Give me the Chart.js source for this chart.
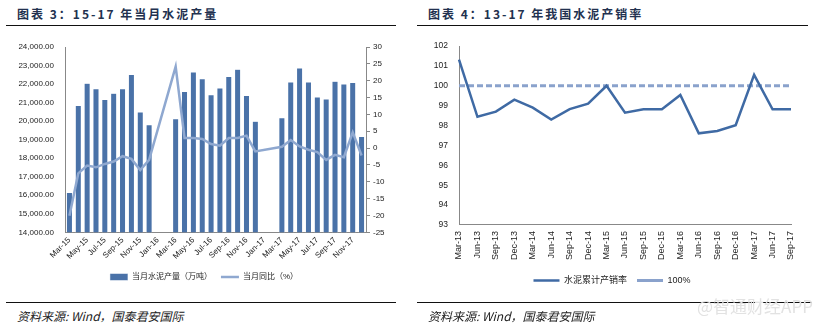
<!DOCTYPE html>
<html>
<head>
<meta charset="utf-8">
<script src="https://cdn.jsdelivr.net/npm/chart.js@4.4.0/dist/chart.umd.min.js"></script>
<style>
body { margin: 0; background: #fff; font-family: "Liberation Sans", "Noto Sans CJK SC", sans-serif; }
#page { position: relative; width: 816px; height: 325px; overflow: hidden; }
.title { position: absolute; top: 5px; font-size: 12px; font-weight: bold; color: #22314f; letter-spacing: 2px; font-family: "Noto Sans CJK SC", sans-serif; }
.rule { position: absolute; height: 1px; background: #111; }
.src { position: absolute; top: 307px; font-size: 12px; font-style: italic; color: #222; font-family: "Noto Sans CJK SC", sans-serif; }
.box { position: absolute; }
#mark { position: absolute; left: 697px; top: 293px; font-size: 17px; color: #e2e2e2; font-family: "Noto Sans CJK SC", sans-serif; }
</style>
</head>
<body>
<div id="page">
  <div class="title" style="left:17px">图表 3：15-17 年当月水泥产量</div>
  <div class="title" style="left:428px">图表 4：13-17 年我国水泥产销率</div>
  <div class="rule" style="left:6px;width:390px;top:25px"></div>
  <div class="rule" style="left:417px;width:391px;top:25px"></div>
  <div class="box" style="left:0;top:37px;width:408px;height:254px"><canvas id="chart1"></canvas></div>
  <div class="box" style="left:408px;top:36px;width:408px;height:259px"><canvas id="chart2"></canvas></div>
  <div class="rule" style="left:6px;width:390px;top:302px"></div>
  <div class="rule" style="left:417px;width:395px;top:302px"></div>
  <div class="src" style="left:17px">资料来源: Wind，国泰君安国际</div>
  <div class="src" style="left:428px">资料来源: Wind，国泰君安国际</div>
  <div id="mark">@智通财经APP</div>
</div>
<script>
// 当月水泥产量 / 当月同比
var months = ['Mar-15','Apr-15','May-15','Jun-15','Jul-15','Aug-15','Sep-15','Oct-15','Nov-15','Dec-15',
              'Jan-16','Feb-16','Mar-16','Apr-16','May-16','Jun-16','Jul-16','Aug-16','Sep-16','Oct-16','Nov-16','Dec-16',
              'Jan-17','Feb-17','Mar-17','Apr-17','May-17','Jun-17','Jul-17','Aug-17','Sep-17','Oct-17','Nov-17','Dec-17'];
var output = [16150,20850,22050,21750,21170,21510,21750,22510,20490,19800,
              null,null,20130,21600,22650,22290,21430,21790,22410,22800,21390,20000,
              null,null,20180,22110,22870,22110,21300,21190,22150,22000,22090,19170];
var yoy = [-20.1,-7.5,-5.2,-5.7,-4.7,-4.0,-2.4,-3.2,-6.5,-3.5,
           null,null,24.2,3.0,3.0,2.7,1.2,0.7,3.0,3.0,3.7,-1.0,
           null,null,0.4,2.4,0.5,-0.5,-1.2,-3.5,-2.0,-2.7,4.7,-2.2];

// 水泥累计产销率
var quarters = ['Mar-13','Jun-13','Sep-13','Dec-13','Mar-14','Jun-14','Sep-14','Dec-14','Mar-15','Jun-15',
                'Sep-15','Dec-15','Mar-16','Jun-16','Sep-16','Dec-16','Mar-17','Jun-17','Sep-17'];
var rate = [101.31,98.44,98.7,99.3,98.9,98.3,98.83,99.1,100.0,98.65,98.82,98.82,99.54,97.61,97.73,98.02,100.55,98.82,98.82];
var hundred = [100,100,100,100,100,100,100,100,100,100,100,100,100,100,100,100,100,100,100];

Chart.defaults.font.family = '"Liberation Sans", "Noto Sans CJK SC", sans-serif';
Chart.defaults.color = '#222';
Chart.defaults.animation = false;

var ctx = document.getElementById('chart1').getContext('2d');
var chart1 = new Chart(ctx, {
    type: 'bar',
    data: {
        labels: months,
        datasets: [{
            label: '当月水泥产量（万吨）',
            data: output,
            backgroundColor: '#4a72a8',
            borderColor: '#ffffff',
            borderWidth: 0.5,
            barPercentage: 0.9,
            categoryPercentage: 0.76,
            yAxisID: 'y',
            pointStyle: 'rect',
            order: 2
        }, {
            type: 'line',
            label: '当月同比（%）',
            data: yoy,
            borderColor: '#8fa8d0',
            borderWidth: 2.5,
            pointRadius: 0,
            spanGaps: true,
            tension: 0,
            yAxisID: 'y1',
            pointStyle: 'line',
            order: 1
        }]
    },
    options: {
        responsive: true,
        maintainAspectRatio: false,
        layout: { padding: { left: 0, right: 0, top: 10, bottom: 0 } },
        plugins: {
            legend: {
                position: 'bottom',
                labels: {
                    usePointStyle: true, pointStyleWidth: 18, boxHeight: 7, font: { size: 8 }, padding: 9,
                    sort: function(a, b) { return a.datasetIndex - b.datasetIndex; }
                }
            },
            tooltip: { enabled: false }
        },
        scales: {
            x: {
                grid: { display: false, drawTicks: false },
                border: { color: '#888' },
                ticks: {
                    autoSkip: false, minRotation: 45, maxRotation: 45, font: { size: 8 }, padding: 3,
                    callback: function(v, i) { return i % 2 == 0 ? months[i] : ''; }
                }
            },
            y: {
                position: 'left',
                min: 14000, max: 24000,
                grid: { display: false },
                border: { color: '#888' },
                afterFit: function(s) { s.width = 65; },
                ticks: {
                    stepSize: 1000, font: { size: 8 },
                    callback: function(v) { return v.toLocaleString('en-US', { minimumFractionDigits: 2 }); }
                }
            },
            y1: {
                position: 'right',
                min: -25, max: 30,
                grid: { drawOnChartArea: false, tickLength: 4, color: '#888' },
                border: { color: '#888' },
                afterFit: function(s) { s.width = 42; },
                ticks: { stepSize: 5, font: { size: 8 } }
            }
        }
    }
});

var ctx = document.getElementById('chart2').getContext('2d');
var chart2 = new Chart(ctx, {
    type: 'line',
    data: {
        labels: quarters,
        datasets: [{
            label: '水泥累计产销率',
            data: rate,
            borderColor: '#3f6aa4',
            borderWidth: 2.5,
            pointRadius: 0,
            tension: 0,
            pointStyle: 'line'
        }, {
            label: '100%',
            data: hundred,
            borderColor: '#8aa2cc',
            borderWidth: 3,
            borderDash: [6, 3],
            pointRadius: 0,
            pointStyle: 'line'
        }]
    },
    options: {
        responsive: true,
        maintainAspectRatio: false,
        layout: { padding: { left: 0, right: 0, top: 10, bottom: 0 } },
        plugins: {
            legend: {
                position: 'bottom',
                labels: { usePointStyle: true, pointStyleWidth: 26, boxHeight: 7, font: { size: 9 }, padding: 10 }
            },
            tooltip: { enabled: false }
        },
        scales: {
            x: {
                offset: false,
                grid: { display: false, drawTicks: false },
                border: { color: '#888' },
                ticks: { autoSkip: false, minRotation: 90, maxRotation: 90, font: { size: 9 }, padding: 6 }
            },
            y: {
                min: 93, max: 102,
                grid: { display: false },
                border: { color: '#888' },
                afterFit: function(s) { s.width = 51; },
                ticks: { stepSize: 1, font: { size: 8.5 } }
            },
            // empty room on the right of the plot
            yR: {
                position: 'right',
                grid: { display: false, drawTicks: false },
                border: { display: false },
                ticks: { display: false },
                afterFit: function(s) { s.width = 25; }
            }
        }
    }
});
</script>
</body>
</html>
